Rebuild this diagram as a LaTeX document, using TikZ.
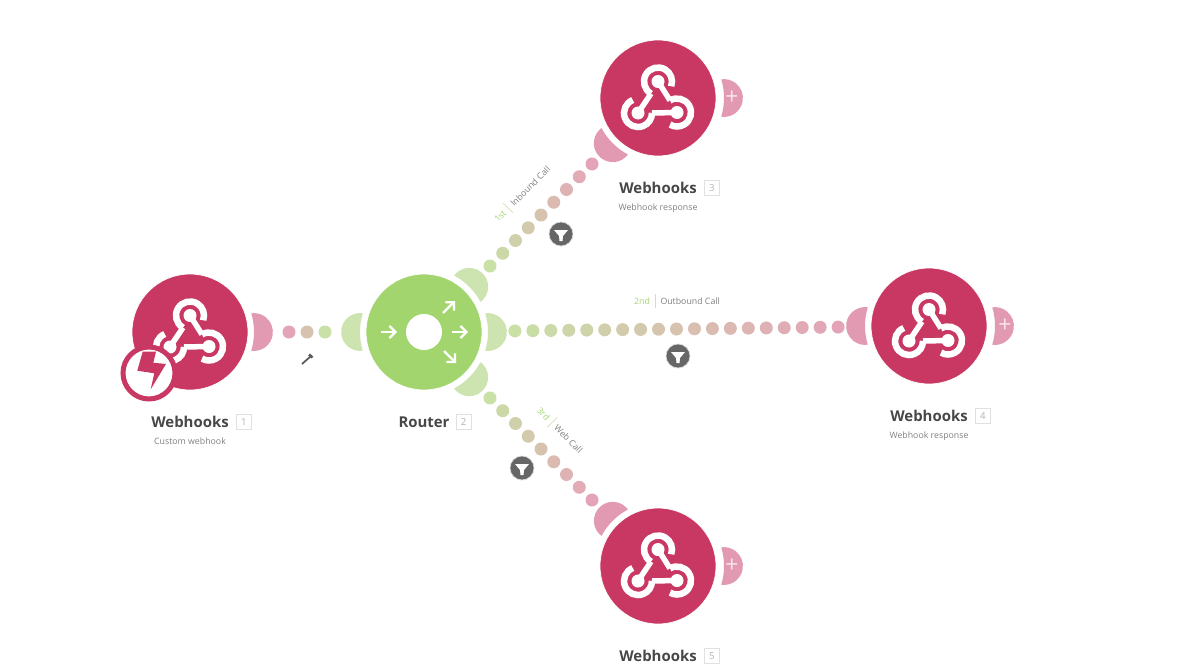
\documentclass[tikz,border=0pt]{standalone}
\usepackage{fontspec}
\setmainfont{Open Sans}
\usetikzlibrary{arrows.meta,positioning,calc}

\definecolor{hookpink}{HTML}{C83862}
\definecolor{routergreen}{HTML}{A3D56F}
\definecolor{domepink}{HTML}{E29AB2}
\definecolor{domegreen}{HTML}{CDE3B0}
\definecolor{dotpink}{HTML}{E4A4B8}
\definecolor{dotgreen}{HTML}{C9E0A6}
\definecolor{filtergray}{HTML}{666666}

% half disc sitting on the rim of a module
\newcommand{\dome}[3]{
    \fill[#3] (#1) ++(#2-17:64) arc[start angle=#2-17, end angle=#2+17, radius=64]
        arc[start angle=#2+98.5, end angle=#2-98.5, radius=18.9] -- cycle;
}

% row of dots between two modules
\newcommand{\dotchain}[7]{
    \foreach \i in {0,...,#5} {
        \pgfmathsetmacro{\pos}{#3+(#4-#3)*\i/#5}
        \pgfmathsetmacro{\pct}{100*\i/#5}
        \fill[#7!\pct!#6] ($(#1)!\pos!(#2)$) circle (6.5);
    }
}

% webhook logo
\newcommand{\hookicon}[1]{
    \begin{scope}[shift={(#1)}]
        \fill[white] (0,-16.5) circle (6.5);
        \fill[white] (-20,15) circle (6.5);
        \fill[white] (19,14.5) circle (6.5);
        \draw[iconline] (-20,15) -- (-7,-4.4);
        \draw[iconline] (0,-16.5) -- (12,2.4);
        \draw[iconline] (19,14.5) -- (-6,15);
        \draw[iconring] (0,-16.5) ++(-240:14) arc[start angle=-240, end angle=20, radius=14];
        \draw[iconring] (-20,15) ++(-112:14) arc[start angle=-112, end angle=-360, radius=14];
        \draw[iconring] (19,14.5) ++(-120:14) arc[start angle=-120, end angle=120, radius=14];
    \end{scope}
}

% filter button with its funnel
\newcommand{\funnel}[1]{
    \fill[white] ($(#1)+(-7,-4)$) -- ++(14,0) -- ++(-5,6) -- ++(-.5,5) -- ++(-3,0) -- ++(-.5,-5) -- cycle;
}

\begin{document}
\begin{tikzpicture}[
    x=0.02cm, y=-0.02cm,
    module/.style={circle, fill=hookpink, draw=white, minimum size=2.32cm, inner sep=0pt},
    iconline/.style={white, line width=0.11cm},
    iconring/.style={white, line width=0.13cm},
    modname/.style={font=\fontsize{8.5}{10}\selectfont\bfseries, text=black!72, inner sep=0pt, text height=6.4pt},
    modnote/.style={font=\fontsize{5}{6}\selectfont, text=black!50, inner sep=0pt, text height=4pt, text depth=1pt},
    numbox/.style={draw=black!12, text=black!30, font=\fontsize{5.5}{6}\selectfont, minimum size=0.3cm, inner sep=0pt},
    calltext/.style={font=\fontsize{5}{6}\selectfont, text=black!50, inner sep=0pt},
    filterbtn/.style={circle, fill=filtergray, draw=black!15, minimum size=0.48cm, inner sep=0pt},
    plusmark/.style={font=\fontsize{13}{13}\selectfont, text=white!75!domepink, inner sep=0pt},
    routerarrow/.style={white, line width=0.045cm, -{Straight Barb[length=0.12cm, width=0.24cm]}}
    ]
    \useasboundingbox (0,0) rectangle (1200,666);

    % Modules
    \node[module] (hook1) at (190,332) {};
    \node[module, fill=routergreen] (router) at (424,332) {};
    \node[module] (hook3) at (658,98) {};
    \node[module] (hook4) at (929,326) {};
    \node[module] (hook5) at (658,566) {};

    % Half discs
    \dome{hook1}{0}{domepink}
    \dome{router}{180}{domegreen}
    \dome{router}{-45}{domegreen}
    \dome{router}{0}{domegreen}
    \dome{router}{45}{domegreen}
    \dome{hook3}{135}{domepink}
    \dome{$(hook3)+(2,0)$}{0}{domepink}
    \dome{hook4}{180}{domepink}
    \dome{$(hook4)+(2,0)$}{0}{domepink}
    \dome{hook5}{-135}{domepink}
    \dome{$(hook5)+(2,0)$}{0}{domepink}

    % Dotted connections
    \dotchain{hook1}{router}{.423}{.577}{2}{dotpink}{dotgreen}
    \dotchain{router}{hook3}{.282}{.718}{8}{dotgreen}{dotpink}
    \dotchain{router}{hook4}{.18}{.82}{18}{dotgreen}{dotpink}
    \dotchain{router}{hook5}{.282}{.718}{8}{dotgreen}{dotpink}

    % Icons
    \hookicon{hook1}
    \hookicon{hook3}
    \hookicon{hook4}
    \hookicon{hook5}

    % Router hole and arrows
    \node[circle, fill=white, minimum size=0.72cm, inner sep=0pt] (hole) at (router) {};
    \draw[routerarrow] ($(router)+(-43,0)$) -- ++(16,0);
    \draw[routerarrow] ($(router)+(28,0)$) -- ++(16,0);
    \draw[routerarrow] ($(router)+(19,-19)$) -- ++(12,-12);
    \draw[routerarrow] ($(router)+(20,19)$) -- ++(12,12);

    % Trigger badge
    \node[circle, draw=hookpink, line width=0.1cm, fill=white, minimum size=1.04cm, inner sep=0pt] (badge) at (149,373) {};
    \fill[hookpink] ($(badge)+(-6.3,-21.3)$) -- ++(13.3,0) -- ++(-2.7,11) -- ++(12.7,1.3) -- ++(-15.3,25.3) -- ++(3.6,-16) -- ++(-17,-2.6) -- cycle;

    % Plus signs
    \node[plusmark] (plus3) at ($(hook3)+(74,0)$) {+};
    \node[plusmark] (plus4) at ($(hook4)+(76,0)$) {+};
    \node[plusmark] (plus5) at ($(hook5)+(74,0)$) {+};

    % Filters
    \node[filterbtn] (filter3) at (561,234) {};
    \node[filterbtn] (filter4) at (678,356) {};
    \node[filterbtn] (filter5) at (522,468) {};
    \funnel{filter3}
    \funnel{filter4}
    \funnel{filter5}

    % Wrench
    \coordinate (wrench) at (307,359);
    \draw[black!65, line width=0.035cm] ($(wrench)+(-5,5)$) -- ($(wrench)+(4,-3)$);
    \draw[black!65, line width=0.05cm] ($(wrench)+(2,-4.5)$) -- ($(wrench)+(5.5,-1.5)$);

    % Route labels
    \node[calltext, rotate=45] (call3) at (522,194) {\textcolor{routergreen}{1st}\hspace{2.8pt}\textcolor{domegreen}{\rule[-2pt]{0.4pt}{8pt}}\hspace{2.8pt}Inbound Call};
    \node[calltext] (call4) at (677,301) {\textcolor{routergreen}{2nd}\hspace{2.8pt}\textcolor{domegreen}{\rule[-2pt]{0.4pt}{8pt}}\hspace{2.8pt}Outbound Call};
    \node[calltext, rotate=-45] (call5) at (560,430) {\textcolor{routergreen}{3rd}\hspace{2.8pt}\textcolor{domegreen}{\rule[-2pt]{0.4pt}{8pt}}\hspace{2.8pt}Web Call};

    % Names
    \node[modname, below=0.51cm of hook1] (name1) {Webhooks};
    \node[numbox, right=0.14cm of name1] (num1) {1};
    \node[modnote, below=0.18cm of name1] (note1) {Custom webhook};

    \node[modname, below=0.51cm of router] (name2) {Router};
    \node[numbox, right=0.12cm of name2] (num2) {2};

    \node[modname, below=0.51cm of hook3] (name3) {Webhooks};
    \node[numbox, right=0.14cm of name3] (num3) {3};
    \node[modnote, below=0.18cm of name3] (note3) {Webhook response};

    \node[modname, below=0.51cm of hook4] (name4) {Webhooks};
    \node[numbox, right=0.14cm of name4] (num4) {4};
    \node[modnote, below=0.18cm of name4] (note4) {Webhook response};

    \node[modname, below=0.51cm of hook5] (name5) {Webhooks};
    \node[numbox, right=0.14cm of name5] (num5) {5};

\end{tikzpicture}
\end{document}
